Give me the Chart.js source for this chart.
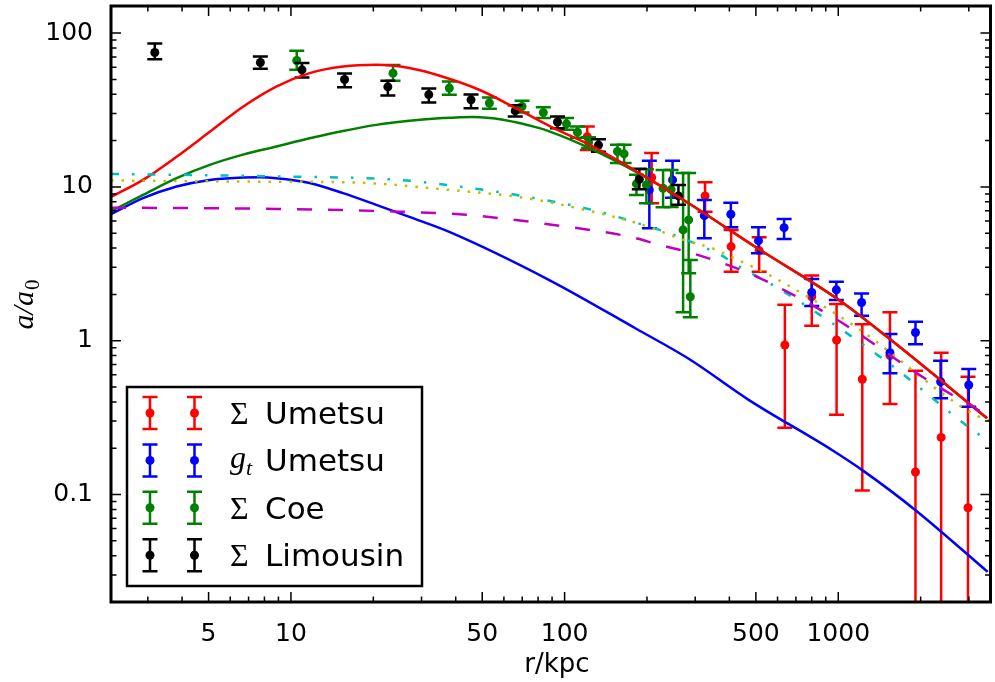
<!DOCTYPE html>
<html>
<head>
<meta charset="utf-8">
<script src="https://cdn.jsdelivr.net/npm/chart.js@4.4.1/dist/chart.umd.min.js"></script>
<style>
  body { margin: 0; background: #fff; }
  #wrap { width: 995px; height: 682px; }
</style>
</head>
<body>
<div id="wrap"><canvas id="accelChart" width="995" height="682"></canvas></div>
<script>
// ---- measured points (r in kpc, a/a0) ----
var umetsuSigR  = [121, 208, 326, 406, 514, 638, 800, 986, 1224, 1545, 1915, 2377, 2979];
var umetsuSigA  = [21.2, 11.5, 8.74, 4.09, 3.85, 0.937, 1.93, 1.01, 0.561, 0.80, 0.14, 0.235, 0.082];
var umetsuSigHi = [24.7, 16.6, 10.7, 5.25, 4.71, 1.71, 2.65, 1.73, 1.28, 1.53, 0.638, 0.835, 0.583];
var umetsuSigLo = [17.4, 7.83, 6.9, 2.81, 2.81, 0.272, 1.25, 0.330, 0.106, 0.388, 0.005, 0.005, 0.005];

var umetsuGtR  = [204, 248, 324, 405, 511, 634, 800, 984, 1217, 1545, 1915, 2366, 2998];
var umetsuGtA  = [9.56, 11.1, 6.5, 6.64, 4.47, 5.43, 2.06, 2.14, 1.77, 0.835, 1.13, 0.541, 0.515];
var umetsuGtHi = [14.8, 14.8, 8.23, 7.9, 5.47, 6.19, 2.52, 2.42, 2.03, 1.105, 1.33, 0.741, 0.654];
var umetsuGtLo = [5.39, 8.5, 4.64, 5.47, 3.7, 4.59, 1.68, 1.84, 1.45, 0.614, 0.948, 0.422, 0.372];

var coeR  = [10.5, 23.6, 37.9, 53.1, 69.9, 83.6, 101.6, 111.4, 122.4, 156, 165, 183, 199, 229, 245, 271, 284, 288];
var coeA  = [66.3, 54.9, 43.9, 35.1, 33.3, 30.4, 25.7, 22.7, 19.4, 17.0, 16.4, 10.46, 10.3, 9.8, 9.6, 5.25, 6.1, 1.93];
var coeHi = [76.7, 61.9, 48.4, 38.1, 36.3, 33.0, 28.0, 24.7, 21.0, 18.8, 18.8, 12.0, 13.0, 12.9, 12.9, 12.3, 12.3, 3.35];
var coeLo = [57.7, 48.9, 39.7, 32.2, 30.4, 28.0, 23.5, 20.9, 17.9, 14.3, 14.3, 8.87, 7.83, 7.38, 7.4, 1.53, 2.74, 1.42];

var limR  = [3.18, 7.73, 10.97, 15.7, 22.6, 31.9, 45.5, 66.0, 94.2, 133, 187.5, 260.6];
var limA  = [74.8, 64.4, 57.7, 49.9, 44.7, 39.8, 36.8, 31.2, 26.4, 18.7, 11.2, 8.74];
var limHi = [85.5, 70.4, 63.8, 54.6, 48.9, 43.6, 39.8, 34.0, 28.7, 20.4, 13.1, 10.3];
var limLo = [67.7, 58.6, 51.4, 44.5, 39.3, 35.4, 32.5, 28.7, 24.1, 16.9, 9.66, 7.64];

// ---- model curves ----
var redR = [2.2, 2.88, 3.82, 5.05, 6.68, 8.84, 11.7, 15.5, 20.5, 27.1, 35.9, 49.2, 66.3, 90.4, 123, 187.5, 285, 500, 1006, 1531, 3500];
var redA = [8.6, 11.1, 15.7, 22.8, 33.2, 44.9, 54.9, 60.6, 62.2, 59.2, 52.0, 42.5, 32.5, 24.3, 18.8, 12.3, 7.8, 4.05, 1.84, 1.036, 0.313];

var greenR = [2.2, 2.88, 3.82, 5.05, 6.68, 8.84, 11.7, 15.5, 20.5, 27.1, 35.9, 46.2, 80.9, 123, 187.5, 285, 500, 1006, 1531, 3500];
var greenA = [6.95, 8.87, 11.4, 13.9, 16.2, 18.3, 20.7, 23.1, 25.3, 26.9, 28.0, 28.5, 24.1, 17.9, 12.2, 7.8, 4.05, 1.84, 1.036, 0.313];

var blueR = [2.2, 2.88, 3.82, 5.05, 6.68, 7.69, 8.84, 11.7, 15.5, 20.5, 27.1, 37.9, 87.9, 182, 285, 472, 951, 1224, 1915, 3516];
var blueA = [6.64, 8.44, 10.05, 11.1, 11.5, 11.56, 11.4, 10.6, 9.1, 7.64, 6.38, 5.10, 2.48, 1.20, 0.76, 0.411, 0.194, 0.144, 0.0791, 0.0314];

var cyanR = [2.2, 8.84, 24.9, 41.3, 72.3, 134, 182, 241, 319, 372, 435, 591, 951, 1531, 3357, 3600];
var cyanA = [12.15, 11.7, 11.1, 10.05, 8.65, 6.9, 5.86, 5.0, 4.09, 3.61, 3.03, 2.24, 1.30, 0.713, 0.237, 0.22];

var yellowR = [2.2, 8.84, 16.4, 38, 72.3, 134, 193, 280, 347, 405, 574, 1157, 3085, 3600];
var yellowA = [11.0, 10.8, 10.7, 9.56, 8.45, 6.74, 5.66, 4.45, 3.99, 3.52, 2.61, 1.23, 0.337, 0.30];

var magentaR = [2.2, 8.84, 24.9, 43.7, 101, 172, 222, 293, 472, 951, 2028, 3171, 3600];
var magentaA = [7.33, 7.19, 6.9, 6.58, 5.52, 4.75, 4.2, 3.7, 2.74, 1.43, 0.583, 0.363, 0.32];

// ---- ticks / labels ----
var xTickLabels = [5, 10, 50, 100, 500, 1000];
var yTickLabels = [0.1, 1, 10, 100];
var legendSyms = ['\u03A3', 'g', '\u03A3', '\u03A3'];
var legendSubs = ['', 't', '', ''];
var legendNames = ['Umetsu', 'Umetsu', 'Coe', 'Limousin'];
var legendColors = ['#ff0000', '#0000ff', '#008000', '#000000'];

function pts(xs, ys) {
    return xs.map(function(x, i) { return { x: x, y: ys[i] }; });
}

function markerSet(xs, ys, hi, lo, color, order) {
    return {
        type: 'scatter',
        data: pts(xs, ys),
        backgroundColor: color,
        borderWidth: 0,
        pointRadius: 4.5,
        errHi: hi,
        errLo: lo,
        order: order
    };
}

function curveSet(xs, ys, color, dash, order) {
    return {
        type: 'line',
        data: pts(xs, ys),
        borderColor: color,
        borderWidth: 2.5,
        borderDash: dash,
        pointRadius: 0,
        fill: false,
        cubicInterpolationMode: 'monotone',
        order: order
    };
}

// vertical error bars drawn just before each marker set
var errorBarPlugin = {
    id: 'errorBars',
    beforeDatasetDraw: function(chart, args) {
        var ds = chart.data.datasets[args.index];
        if (!ds.errHi) return;
        var ctx = chart.ctx, xs = chart.scales.x, ys = chart.scales.y, a = chart.chartArea;
        ctx.save();
        ctx.beginPath();
        ctx.rect(a.left, a.top, a.right - a.left, a.bottom - a.top);
        ctx.clip();
        ctx.strokeStyle = ds.backgroundColor;
        ctx.lineWidth = 2.5;
        ds.data.forEach(function(p, i) {
            var px = xs.getPixelForValue(p.x);
            var top = ys.getPixelForValue(ds.errHi[i]);
            var bot = ys.getPixelForValue(ds.errLo[i]);
            ctx.beginPath();
            ctx.moveTo(px, top); ctx.lineTo(px, bot);
            ctx.moveTo(px - 7.5, top); ctx.lineTo(px + 7.5, top);
            ctx.moveTo(px - 7.5, bot); ctx.lineTo(px + 7.5, bot);
            ctx.stroke();
        });
        ctx.restore();
    }
};

function drawErrSymbol(ctx, x, y, color) {
    ctx.strokeStyle = color;
    ctx.fillStyle = color;
    ctx.lineWidth = 2.5;
    ctx.beginPath();
    ctx.moveTo(x, y - 16); ctx.lineTo(x, y + 16);
    ctx.moveTo(x - 7.5, y - 16); ctx.lineTo(x + 7.5, y - 16);
    ctx.moveTo(x - 7.5, y + 16); ctx.lineTo(x + 7.5, y + 16);
    ctx.stroke();
    ctx.beginPath();
    ctx.arc(x, y, 4.5, 0, Math.PI * 2);
    ctx.fill();
}

// frame, inward ticks on all sides, axis titles and legend
var framePlugin = {
    id: 'frame',
    afterDraw: function(chart) {
        var ctx = chart.ctx, a = chart.chartArea, xs = chart.scales.x, ys = chart.scales.y;
        ctx.save();
        ctx.strokeStyle = '#000';
        ctx.lineWidth = 1.5;
        var k, m, v, p, len;
        for (k = 0; k <= 3; k++) {
            for (m = 1; m <= 9; m++) {
                v = m * Math.pow(10, k);
                if (v < xs.min || v > xs.max) continue;
                p = xs.getPixelForValue(v);
                len = (m === 1 || m === 5) ? 10 : 5.5;
                ctx.beginPath();
                ctx.moveTo(p, a.bottom); ctx.lineTo(p, a.bottom - len);
                ctx.moveTo(p, a.top); ctx.lineTo(p, a.top + len);
                ctx.stroke();
            }
        }
        for (k = -2; k <= 2; k++) {
            for (m = 1; m <= 9; m++) {
                v = m * Math.pow(10, k);
                if (v < ys.min || v > ys.max) continue;
                p = ys.getPixelForValue(v);
                len = (m === 1) ? 10 : 5.5;
                ctx.beginPath();
                ctx.moveTo(a.left, p); ctx.lineTo(a.left + len, p);
                ctx.moveTo(a.right, p); ctx.lineTo(a.right - len, p);
                ctx.stroke();
            }
        }
        ctx.lineWidth = 3;
        ctx.strokeRect(a.left, a.top, a.right - a.left, a.bottom - a.top);

        // axis titles
        ctx.fillStyle = '#000';
        ctx.font = '26px "DejaVu Sans"';
        ctx.textAlign = 'center';
        ctx.textBaseline = 'alphabetic';
        ctx.fillText('r/kpc', 557, 672);

        ctx.save();
        ctx.translate(33, 305);
        ctx.rotate(-Math.PI / 2);
        ctx.textAlign = 'left';
        ctx.font = 'italic 30px "Liberation Serif"';
        var main = 'a/a';
        var wMain = ctx.measureText(main).width;
        ctx.font = '21px "Liberation Serif"';
        var wSub = ctx.measureText('0').width;
        var x0 = -(wMain + wSub) / 2;
        ctx.font = 'italic 30px "Liberation Serif"';
        ctx.fillText(main, x0, 0);
        ctx.font = '21px "Liberation Serif"';
        ctx.fillText('0', x0 + wMain + 1, 6);
        ctx.restore();

        // legend
        var lx = a.left + 16, lw = 295, lh = 199, ly = a.bottom - 16 - lh;
        ctx.fillStyle = '#fff';
        ctx.fillRect(lx, ly, lw, lh);
        ctx.lineWidth = 2.5;
        ctx.strokeStyle = '#000';
        ctx.strokeRect(lx, ly, lw, lh);
        ctx.textAlign = 'left';
        for (var i = 0; i < legendNames.length; i++) {
            var cy = ly + 26 + i * 47.4;
            drawErrSymbol(ctx, lx + 23, cy, legendColors[i]);
            drawErrSymbol(ctx, lx + 67.5, cy, legendColors[i]);
            ctx.fillStyle = '#000';
            if (legendSubs[i]) {
                ctx.font = 'italic 32px "Liberation Serif"';
                ctx.fillText(legendSyms[i], lx + 103, cy + 8);
                var gw = ctx.measureText(legendSyms[i]).width;
                ctx.font = 'italic 22px "Liberation Serif"';
                ctx.fillText(legendSubs[i], lx + 103 + gw, cy + 15);
            } else {
                ctx.font = '32px "Liberation Serif"';
                ctx.fillText(legendSyms[i], lx + 103, cy + 11);
            }
            ctx.font = '31px "DejaVu Sans"';
            ctx.fillText(legendNames[i], lx + 138, cy + 11);
        }
        ctx.restore();
    }
};

Chart.defaults.font.family = '"DejaVu Sans"';
Chart.defaults.color = '#000';

var ctxAccel = document.getElementById('accelChart').getContext('2d');
var accelChart = new Chart(ctxAccel, {
    type: 'scatter',
    data: {
        datasets: [
            markerSet(umetsuSigR, umetsuSigA, umetsuSigHi, umetsuSigLo, '#ff0000', 100),
            markerSet(umetsuGtR, umetsuGtA, umetsuGtHi, umetsuGtLo, '#0000ff', 90),
            markerSet(coeR, coeA, coeHi, coeLo, '#008000', 80),
            markerSet(limR, limA, limHi, limLo, '#000000', 70),
            curveSet(blueR, blueA, '#0000ff', [], 50),
            curveSet(greenR, greenA, '#008000', [], 40),
            curveSet(redR, redA, '#ff0000', [], 30),
            curveSet(cyanR, cyanA, '#00bfbf', [8, 13, 2.5, 13], 20),
            curveSet(yellowR, yellowA, '#bfbf00', [2.5, 8], 10),
            curveSet(magentaR, magentaA, '#bf00bf', [15, 16], 5)
        ]
    },
    options: {
        responsive: false,
        animation: false,
        devicePixelRatio: 1,
        layout: { padding: { top: 6, right: 2, left: 0, bottom: 0 } },
        plugins: {
            legend: { display: false },
            tooltip: { enabled: false }
        },
        scales: {
            x: {
                type: 'logarithmic',
                min: 2.2,
                max: 3600,
                grid: { display: false },
                border: { display: false },
                afterBuildTicks: function(scale) {
                    scale.ticks = xTickLabels.map(function(v) { return { value: v }; });
                },
                afterFit: function(scale) {
                    scale.height = 80;
                    scale.paddingLeft = 0;
                    scale.paddingRight = 0;
                },
                ticks: {
                    font: { size: 25 },
                    padding: 9,
                    maxRotation: 0,
                    autoSkip: false,
                    callback: function(v) { return String(v); }
                }
            },
            y: {
                type: 'logarithmic',
                min: 0.02,
                max: 150,
                grid: { display: false },
                border: { display: false },
                afterBuildTicks: function(scale) {
                    scale.ticks = yTickLabels.map(function(v) { return { value: v }; });
                },
                afterFit: function(scale) {
                    scale.width = 111;
                    scale.paddingTop = 0;
                    scale.paddingBottom = 0;
                },
                ticks: {
                    font: { size: 25 },
                    padding: 10,
                    autoSkip: false,
                    callback: function(v) { return String(v); }
                }
            }
        }
    },
    plugins: [errorBarPlugin, framePlugin]
});
</script>
</body>
</html>
